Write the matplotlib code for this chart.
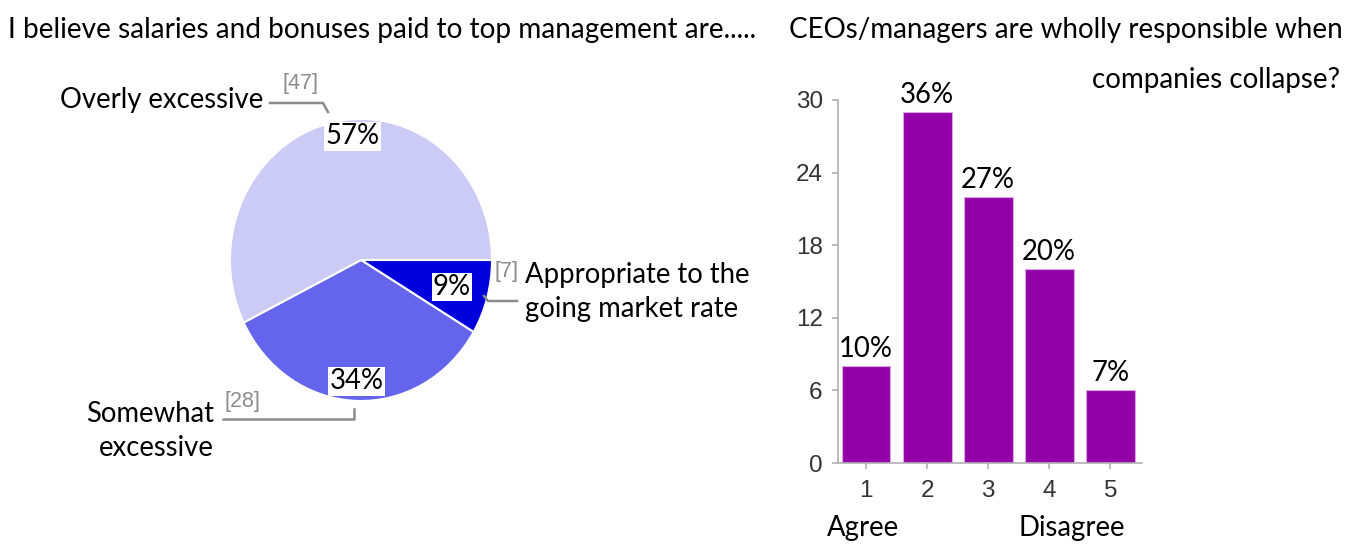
import numpy as np
import matplotlib.pyplot as plt

# pie data: survey on pay of top management
pie_labels = ["Appropriate to the\ngoing market rate", "Somewhat\nexcessive", "Overly excessive"]
pie_counts = [7, 28, 47]
pie_pcts = ["9%", "34%", "57%"]
pie_colors = ["#0000DC", "#6464EC", "#CBCBF6"]

# bar data: are CEOs responsible when companies collapse (1 = agree, 5 = disagree)
bar_cats = [1, 2, 3, 4, 5]
bar_counts = [8, 29, 22, 16, 6]
bar_pcts = ["10%", "36%", "27%", "20%", "7%"]
y_ticks = [0, 6, 12, 18, 24, 30]

W, H = 1362, 547
LABEL_FONT = "Lato"
TICK_FONT = "Liberation Sans"
FS = 19.8


def fx(x):
    return x / W


def fy(y):
    return 1 - y / H


fig = plt.figure(figsize=(W / 100, H / 100), dpi=100)

# ---------------- pie ----------------
cx, cy, rx, ry = 361, 260, 131, 141
ax1 = fig.add_axes([fx(cx - rx), fy(cy + ry), 2 * rx / W, 2 * ry / H])
wedges, _ = ax1.pie(pie_counts, colors=pie_colors, startangle=0, counterclock=False,
                    radius=1.0, wedgeprops=dict(edgecolor="white", linewidth=1.5))
ax1.set_aspect("auto")
ax1.set_xlim(-1, 1)
ax1.set_ylim(-1, 1)
ax1.axis("off")

pct_dist = [0.72, 0.86, 0.9]
pct_shift = [0.0, 0.0, 0.14]
for w, p, d, s in zip(wedges, pie_pcts, pct_dist, pct_shift):
    mid = np.deg2rad((w.theta1 + w.theta2) / 2)
    ax1.text(d * np.cos(mid) + s, d * np.sin(mid), p, ha="center", va="center",
             fontsize=FS, family=LABEL_FONT, color="black",
             bbox=dict(facecolor="white", edgecolor="none", pad=1.0))


def to_pie(x, y):
    return (x - cx) / rx, (cy - y) / ry


line_kw = dict(color="#8c8c8c", lw=1.8, clip_on=False)
cnt_kw = dict(fontsize=15.5, family=TICK_FONT, color="#8c8c8c")

# overly excessive leader
pts = [to_pie(*p) for p in [(270, 103), (323, 103), (328, 112)]]
ax1.plot([p[0] for p in pts], [p[1] for p in pts], **line_kw)
ax1.text(*to_pie(301, 84), "[%d]" % pie_counts[2], ha="center", va="center", **cnt_kw)
fig.text(fx(263), fy(100), pie_labels[2], ha="right", va="center", fontsize=FS,
         family=LABEL_FONT)

# somewhat excessive leader
pts = [to_pie(*p) for p in [(223, 419), (354, 419), (354, 409)]]
ax1.plot([p[0] for p in pts], [p[1] for p in pts], **line_kw)
ax1.text(*to_pie(242, 401), "[%d]" % pie_counts[1], ha="center", va="center", **cnt_kw)
fig.text(fx(214), fy(431), pie_labels[1], ha="right", va="center", fontsize=FS,
         family=LABEL_FONT, linespacing=1.38)

# appropriate leader
pts = [to_pie(*p) for p in [(484, 296), (488, 301), (517, 301)]]
ax1.plot([p[0] for p in pts], [p[1] for p in pts], **line_kw)
ax1.text(*to_pie(506, 271), "[%d]" % pie_counts[0], ha="center", va="center", **cnt_kw)
fig.text(fx(525), fy(292), pie_labels[0], ha="left", va="center", fontsize=FS,
         family=LABEL_FONT, linespacing=1.38)

fig.text(fx(8), fy(30), "I believe salaries and bonuses paid to top management are.....",
         ha="left", va="center", fontsize=FS + 0.4, family=LABEL_FONT)

# ---------------- bars ----------------
ax2 = fig.add_axes([fx(838), fy(463), (1142 - 838) / W, (463 - 100) / H])
bars = ax2.bar(bar_cats, bar_counts, width=0.8, color="#9400A8",
               edgecolor="#D9A6E0", linewidth=0.8)
for b, p in zip(bars, bar_pcts):
    ax2.annotate(p, (b.get_x() + b.get_width() / 2, b.get_height()),
                 xytext=(0, 3), textcoords="offset points", ha="center", va="bottom",
                 fontsize=FS, family=LABEL_FONT)
ax2.set_xlim(0.54, 5.52)
ax2.set_ylim(0, 30)
ax2.set_xticks(bar_cats)
ax2.set_yticks(y_ticks)
for side in ["top", "right"]:
    ax2.spines[side].set_visible(False)
for side in ["left", "bottom"]:
    ax2.spines[side].set_color("#b0b0b0")
    ax2.spines[side].set_linewidth(1.2)
ax2.tick_params(axis="both", colors="#b0b0b0", length=4, width=1.2,
                labelcolor="#333333", labelsize=17.5)
ax2.tick_params(axis="x", pad=8)
ax2.tick_params(axis="y", pad=7)
for lab in ax2.get_xticklabels() + ax2.get_yticklabels():
    lab.set_family(TICK_FONT)

fig.text(fx(1343), fy(30), "CEOs/managers are wholly responsible when", ha="right",
         va="center", fontsize=FS + 0.2, family=LABEL_FONT)
fig.text(fx(1340), fy(80), "companies collapse?", ha="right", va="center",
         fontsize=FS + 0.2, family=LABEL_FONT)
fig.text(fx(827), fy(528), "Agree", ha="left", va="center", fontsize=FS, family=LABEL_FONT)
fig.text(fx(1125), fy(528), "Disagree", ha="right", va="center", fontsize=FS,
         family=LABEL_FONT)

fig.savefig("out.png", dpi=100)
